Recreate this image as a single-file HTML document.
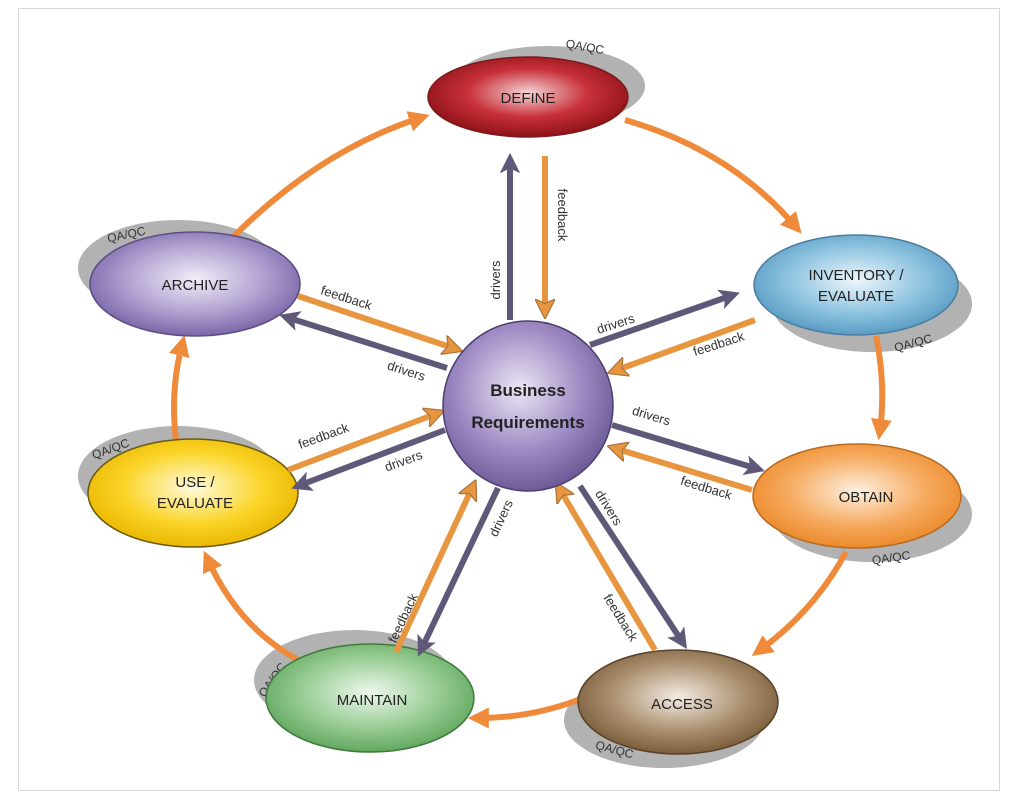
<!DOCTYPE html>
<html><head><meta charset="utf-8"><style>
html,body{margin:0;padding:0;background:#fff;width:1010px;height:804px;overflow:hidden}
svg{display:block;font-family:"Liberation Sans",Arial,sans-serif}
</style></head><body>
<svg width="1010" height="804" viewBox="0 0 1010 804" xmlns="http://www.w3.org/2000/svg">
<defs>
<radialGradient id="gRed" cx="50%" cy="45%" r="55%"><stop offset="0" stop-color="#f4d6d6"/><stop offset="0.55" stop-color="#c8303a"/><stop offset="1" stop-color="#8e1218"/></radialGradient>
<radialGradient id="gPur" cx="50%" cy="45%" r="55%"><stop offset="0" stop-color="#f2eef8"/><stop offset="0.6" stop-color="#b0a0d0"/><stop offset="1" stop-color="#7a68a8"/></radialGradient>
<radialGradient id="gBlue" cx="50%" cy="45%" r="55%"><stop offset="0" stop-color="#eef6fb"/><stop offset="0.6" stop-color="#8ec4e0"/><stop offset="1" stop-color="#5a9cc4"/></radialGradient>
<radialGradient id="gOr" cx="50%" cy="45%" r="55%"><stop offset="0" stop-color="#fdf0e0"/><stop offset="0.6" stop-color="#f6ab60"/><stop offset="1" stop-color="#ec8a2c"/></radialGradient>
<radialGradient id="gBr" cx="50%" cy="45%" r="55%"><stop offset="0" stop-color="#f3ece2"/><stop offset="0.6" stop-color="#ab9070"/><stop offset="1" stop-color="#7a5e3c"/></radialGradient>
<radialGradient id="gGr" cx="50%" cy="45%" r="55%"><stop offset="0" stop-color="#eef8ec"/><stop offset="0.6" stop-color="#98cc94"/><stop offset="1" stop-color="#62a860"/></radialGradient>
<radialGradient id="gY" cx="50%" cy="45%" r="55%"><stop offset="0" stop-color="#fffbe0"/><stop offset="0.6" stop-color="#fbd52a"/><stop offset="1" stop-color="#eab800"/></radialGradient>
<radialGradient id="gC" cx="45%" cy="40%" r="60%"><stop offset="0" stop-color="#ece6f4"/><stop offset="0.6" stop-color="#a08cc4"/><stop offset="1" stop-color="#6e5c98"/></radialGradient>
<marker id="mO" markerWidth="3.4" markerHeight="3.4" refX="2.2" refY="1.7" orient="auto" markerUnits="strokeWidth"><path d="M0,0 L3.4,1.7 L0,3.4 L0.8,1.7z" fill="#e8953f" stroke="#a8743c" stroke-width="0.2"/></marker>
<marker id="mP" markerWidth="3.4" markerHeight="3.4" refX="2.2" refY="1.7" orient="auto" markerUnits="strokeWidth"><path d="M0,0 L3.4,1.7 L0,3.4 L0.8,1.7z" fill="#5f5878"/></marker>
<marker id="mR" markerWidth="3.5" markerHeight="3.5" refX="1.8" refY="1.75" orient="auto" markerUnits="strokeWidth"><path d="M0,0 L3.5,1.75 L0,3.5z" fill="#ef8a3a"/></marker>
</defs>
<rect x="18.5" y="8.5" width="981" height="782" fill="#fff" stroke="#d8d8d8"/>

<g fill="#b2b2b2">
<ellipse cx="548" cy="86" rx="97" ry="40"/>
<ellipse cx="178" cy="268" rx="100" ry="48"/>
<ellipse cx="872" cy="304" rx="100" ry="48"/>
<ellipse cx="872" cy="514" rx="100" ry="48"/>
<ellipse cx="664" cy="720" rx="100" ry="48"/>
<ellipse cx="354" cy="680" rx="100" ry="50"/>
<ellipse cx="178" cy="476" rx="100" ry="50"/>
</g>
<g font-size="12" fill="#333">
<text x="565" y="50" transform="rotate(10 580 50)">QA/QC</text>
<text x="108" y="240" transform="rotate(-12 120 240)">QA/QC</text>
<text x="895" y="348" transform="rotate(-15 910 348)">QA/QC</text>
<text x="872" y="562" transform="rotate(-8 890 560)">QA/QC</text>
<text x="595" y="753" transform="rotate(15 612 750)">QA/QC</text>
<text x="250" y="690" transform="rotate(-55 265 680)">QA/QC</text>
<text x="92" y="455" transform="rotate(-20 105 452)">QA/QC</text>
</g>

<g fill="none" stroke="#ef8a3a" stroke-width="6" marker-end="url(#mR)">
<path d="M232,238 Q320,150 420,118"/>
<path d="M625,120 Q730,150 795,226"/>
<path d="M876,336 Q886,385 880,430"/>
<path d="M846,552 Q815,610 760,650"/>
<path d="M578,700 Q530,718 478,718"/>
<path d="M302,662 Q240,630 208,560"/>
<path d="M176,440 Q170,390 182,345"/>
</g>

<ellipse cx="528" cy="97" rx="100" ry="40" fill="url(#gRed)" stroke="#7a1a1a" stroke-width="1.5"/>
<ellipse cx="195" cy="284" rx="105" ry="52" fill="url(#gPur)" stroke="#5e4c84" stroke-width="1.5"/>
<ellipse cx="856" cy="285" rx="102" ry="50" fill="url(#gBlue)" stroke="#4a7ea0" stroke-width="1.5"/>
<ellipse cx="857" cy="496" rx="104" ry="52" fill="url(#gOr)" stroke="#b86a20" stroke-width="1.5"/>
<ellipse cx="678" cy="702" rx="100" ry="52" fill="url(#gBr)" stroke="#5a4228" stroke-width="1.5"/>
<ellipse cx="370" cy="698" rx="104" ry="54" fill="url(#gGr)" stroke="#3e7a3c" stroke-width="1.5"/>
<ellipse cx="193" cy="493" rx="105" ry="54" fill="url(#gY)" stroke="#6a5a10" stroke-width="1.5"/>

<g fill="none" stroke-width="6">
<g stroke="#5f5878" marker-end="url(#mP)">
<path d="M510,320 L510,160"/>
<path d="M447,368 L286,317"/>
<path d="M590,345 L733,295"/>
<path d="M612,425 L758,469"/>
<path d="M580,486 L683,643"/>
<path d="M498,488 L421,650"/>
<path d="M445,430 L298,486"/>
</g>
<g stroke="#e8953f" marker-end="url(#mO)">
<path d="M545,156 L545,312"/>
<path d="M298,296 L456,349"/>
<path d="M755,320 L614,371"/>
<path d="M752,490 L614,448"/>
<path d="M655,650 L559,488"/>
<path d="M396,652 L473,486"/>
<path d="M288,470 L438,413"/>
</g>
</g>

<circle cx="528" cy="406" r="85" fill="url(#gC)" stroke="#4e3e70" stroke-width="1.5"/>

<g font-size="15" fill="#222" text-anchor="middle">
<text x="528" y="103">DEFINE</text>
<text x="195" y="290">ARCHIVE</text>
<text x="856" y="280">INVENTORY /</text><text x="856" y="301">EVALUATE</text>
<text x="866" y="502">OBTAIN</text>
<text x="682" y="709">ACCESS</text>
<text x="372" y="705">MAINTAIN</text>
<text x="195" y="487">USE /</text><text x="195" y="508">EVALUATE</text>
<text x="528" y="396" font-weight="bold" font-size="17">Business</text>
<text x="528" y="428" font-weight="bold" font-size="17">Requirements</text>
</g>
<g font-size="13" fill="#333" text-anchor="middle">
<text transform="translate(500,280) rotate(-90)">drivers</text>
<text transform="translate(558,215) rotate(90)">feedback</text>
<text transform="translate(345,302) rotate(18)">feedback</text>
<text transform="translate(405,375) rotate(18)">drivers</text>
<text transform="translate(617,328) rotate(-18)">drivers</text>
<text transform="translate(720,348) rotate(-18)">feedback</text>
<text transform="translate(650,420) rotate(17)">drivers</text>
<text transform="translate(705,492) rotate(17)">feedback</text>
<text transform="translate(325,440) rotate(-20)">feedback</text>
<text transform="translate(405,465) rotate(-20)">drivers</text>
<text transform="translate(605,510) rotate(58)">drivers</text>
<text transform="translate(617,620) rotate(58)">feedback</text>
<text transform="translate(505,520) rotate(-65)">drivers</text>
<text transform="translate(407,620) rotate(-65)">feedback</text>
</g>
</svg>
</body></html>
